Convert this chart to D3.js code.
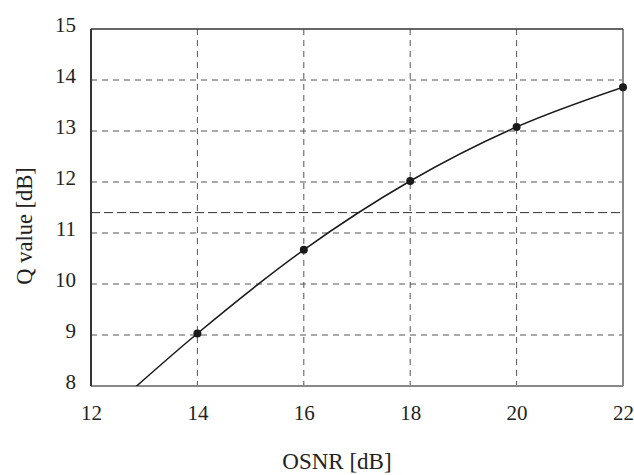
<!DOCTYPE html>
<html>
<head>
<meta charset="utf-8">
<script src="https://cdn.jsdelivr.net/npm/d3@7"></script>
<style>
  body { margin: 0; background: #fff; }
  svg text { font-family: "Liberation Serif", "Times New Roman", Times, "DejaVu Serif", serif; fill: #222; }
</style>
</head>
<body>
<div id="chart"></div>
<script>
// measured points (OSNR dB -> Q dB); first one lies below the axis and gets clipped
const osnr = [12, 14, 16, 18, 20, 22];
const qValue = [7.2, 9.03, 10.67, 12.02, 13.08, 13.86];
const xTicks = [12, 14, 16, 18, 20, 22];
const yTicks = [8, 9, 10, 11, 12, 13, 14, 15];
const thresholdQ = 11.4;

const width = 634, height = 475;
const margin = {top: 29, right: 11, bottom: 89, left: 91};
const serif = '"Liberation Serif", "Times New Roman", Times, "DejaVu Serif", serif';

const svg = d3.select("#chart").append("svg")
  .attr("width", width)
  .attr("height", height);

const x = d3.scaleLinear().domain([12, 22]).range([margin.left, width - margin.right]);
const y = d3.scaleLinear().domain([8, 15]).range([height - margin.bottom, margin.top]);

svg.append("clipPath").attr("id", "plot")
  .append("rect")
  .attr("x", x(12)).attr("y", y(15))
  .attr("width", x(22) - x(12)).attr("height", y(8) - y(15));

// grid
const grid = svg.append("g").attr("stroke", "#555").attr("stroke-width", 1).attr("stroke-dasharray", "6,5");
grid.selectAll(".vx").data(xTicks.slice(1, -1)).enter().append("line")
  .attr("x1", d => x(d)).attr("x2", d => x(d))
  .attr("y1", y(15)).attr("y2", y(8));
grid.selectAll(".hy").data(yTicks.slice(1, -1)).enter().append("line")
  .attr("x1", x(12)).attr("x2", x(22))
  .attr("y1", d => y(d)).attr("y2", d => y(d));

// extra threshold line
svg.append("line")
  .attr("x1", x(12)).attr("x2", x(22))
  .attr("y1", y(thresholdQ)).attr("y2", y(thresholdQ))
  .attr("stroke", "#333").attr("stroke-width", 1).attr("stroke-dasharray", "9,4");

// frame: dark top/left, lighter right/bottom
svg.append("line").attr("x1", x(12)).attr("x2", x(22)).attr("y1", y(8)).attr("y2", y(8))
  .attr("stroke", "#888").attr("stroke-width", 2);
svg.append("line").attr("x1", x(22)).attr("x2", x(22)).attr("y1", y(15)).attr("y2", y(8))
  .attr("stroke", "#888").attr("stroke-width", 2);
svg.append("line").attr("x1", x(12)).attr("x2", x(22)).attr("y1", y(15)).attr("y2", y(15))
  .attr("stroke", "#333").attr("stroke-width", 1.3);
svg.append("line").attr("x1", x(12)).attr("x2", x(12)).attr("y1", y(15)).attr("y2", y(8))
  .attr("stroke", "#333").attr("stroke-width", 2);

// axes (labels only)
const xAxis = svg.append("g")
  .attr("transform", `translate(0,${y(8)})`)
  .call(d3.axisBottom(x).tickValues(xTicks).tickFormat(d3.format("d")).tickSize(0).tickPadding(19));
const yAxis = svg.append("g")
  .attr("transform", `translate(${x(12)},0)`)
  .call(d3.axisLeft(y).tickValues(yTicks).tickFormat(d3.format("d")).tickSize(0).tickPadding(15));
[xAxis, yAxis].forEach(g => {
  g.attr("font-family", serif).attr("font-size", 21);
  g.select(".domain").remove();
  g.selectAll("text").style("font-family", serif).style("font-size", "21px").attr("fill", "#222");
});
yAxis.selectAll("text").attr("dy", "0.1em");

// curve
const pts = osnr.map((d, i) => ({x: d, y: qValue[i]}));
const line = d3.line().x(d => x(d.x)).y(d => y(d.y)).curve(d3.curveMonotoneX);
const plot = svg.append("g").attr("clip-path", "url(#plot)");
plot.append("path").datum(pts)
  .attr("d", line)
  .attr("fill", "none").attr("stroke", "#1a1a1a").attr("stroke-width", 1.5);
svg.selectAll(".pt").data(pts.filter(d => d.y >= 8)).enter().append("circle")
  .attr("cx", d => x(d.x)).attr("cy", d => y(d.y)).attr("r", 4)
  .attr("fill", "#1a1a1a");

// titles
svg.append("text")
  .attr("x", 337).attr("y", 469)
  .attr("text-anchor", "middle")
  .style("font-family", serif)
  .style("font-size", "23px")
  .text("OSNR [dB]");
svg.append("text")
  .attr("transform", "translate(32,226) rotate(-90)")
  .attr("text-anchor", "middle")
  .style("font-family", serif)
  .style("font-size", "22.5px")
  .text("Q value [dB]");
</script>
</body>
</html>
